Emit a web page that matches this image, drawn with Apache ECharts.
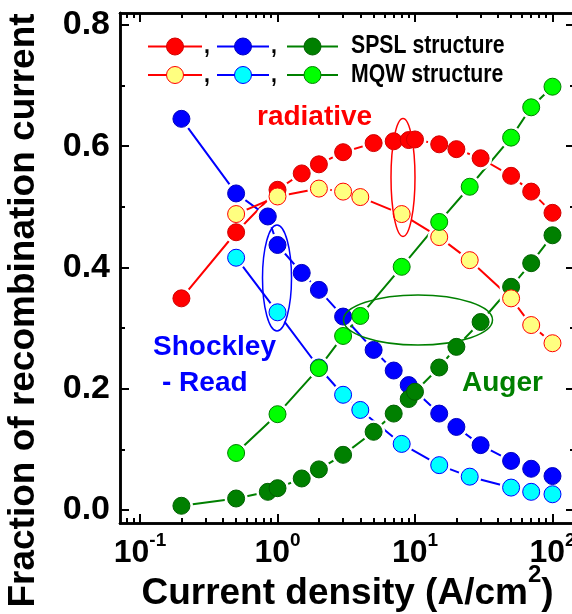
<!DOCTYPE html>
<html><head><meta charset="utf-8">
<script src="https://cdn.jsdelivr.net/npm/echarts@6/dist/echarts.min.js"></script>
<style>html,body{margin:0;padding:0;background:#fff}#c{width:572px;height:614px}</style>
</head><body><div id="c"></div>
<script>
// ---- data ----
const spslRadX = [0.2, 0.5, 1, 1.5, 2, 3, 5, 7, 9, 10, 15, 20, 30, 50, 70, 100];
const spslRad  = [0.349, 0.458, 0.528, 0.555, 0.570, 0.590, 0.605, 0.608, 0.610, 0.611, 0.603, 0.595, 0.580, 0.551, 0.525, 0.490];
const spslSrhX = [0.2, 0.5, 0.85, 1, 1.5, 2, 3, 5, 7, 9, 15, 20, 30, 50, 70, 100];
const spslSrh  = [0.645, 0.522, 0.484, 0.437, 0.391, 0.363, 0.319, 0.264, 0.230, 0.206, 0.159, 0.137, 0.107, 0.081, 0.068, 0.056];
const spslAugX = [0.2, 0.5, 0.85, 1, 1.5, 2, 3, 5, 7, 9, 10, 15, 20, 30, 50, 70, 100];
const spslAug  = [0.007, 0.019, 0.030, 0.036, 0.052, 0.067, 0.091, 0.129, 0.159, 0.183, 0.195, 0.235, 0.269, 0.310, 0.368, 0.407, 0.453];
const mqwX     = [0.5, 1, 2, 3, 4, 8, 15, 25, 50, 70, 100];
const mqwRad   = [0.488, 0.517, 0.530, 0.525, 0.516, 0.488, 0.450, 0.412, 0.349, 0.305, 0.275];
const mqwSrh   = [0.416, 0.326, 0.235, 0.190, 0.165, 0.109, 0.074, 0.055, 0.037, 0.030, 0.026];
const mqwAug   = [0.094, 0.158, 0.234, 0.287, 0.320, 0.401, 0.475, 0.533, 0.614, 0.664, 0.698];

const xMajorTicks = [0.1, 1, 10, 100];
const xMinorTicks = [0.08, 0.09, 0.2, 0.3, 0.4, 0.5, 0.6, 0.7, 0.8, 0.9, 2, 3, 4, 5, 6, 7, 8, 9, 20, 30, 40, 50, 60, 70, 80, 90];
const yMajorTicks = [0, 0.2, 0.4, 0.6, 0.8];
const yMinorTicks = [0.1, 0.3, 0.5, 0.7];

const legendRows = ['SPSL structure', 'MQW structure'];
const notes = ['radiative', 'Shockley', '- Read', 'Auger'];

// ---- styling ----
const SANS = '"Liberation Sans",Arial,sans-serif';
const X_MIN = 0.07151, X_MAX = 145.8, Y_MIN = -0.0214, Y_MAX = 0.8195;

const curves = [
  {x: spslRadX, y: spslRad, line: '#ff0000', fill: '#ff0000', border: '#d00000'},
  {x: spslSrhX, y: spslSrh, line: '#0000ff', fill: '#0000ff', border: '#0000c0'},
  {x: spslAugX, y: spslAug, line: '#008000', fill: '#008000', border: '#006000'},
  {x: mqwX, y: mqwRad, line: '#ff0000', fill: '#ffff80', border: '#ff0000'},
  {x: mqwX, y: mqwSrh, line: '#0000ff', fill: '#00ffff', border: '#0000ff'},
  {x: mqwX, y: mqwAug, line: '#008000', fill: '#00ff00', border: '#008000'}
];
const pairs = c => c.x.map((v, i) => [v, c.y[i]]);

const series = [];
curves.forEach(c => series.push({type: 'line', data: pairs(c), symbol: 'none', z: 2,
  lineStyle: {color: c.line, width: 2}, silent: true, animation: false}));
curves.forEach(c => series.push({type: 'scatter', data: pairs(c), symbolSize: 23, z: 3,
  itemStyle: {color: '#ffffff', opacity: 1}, silent: true, animation: false}));
curves.forEach(c => series.push({type: 'scatter', data: pairs(c), symbolSize: 17, z: 4,
  itemStyle: {color: c.fill, borderColor: c.border, borderWidth: 1, opacity: 1}, silent: true, animation: false}));

const lineCol = '#000';
function xAxisDef(pos, ticks, len, labels) {
  return {
    type: 'log', logBase: 10, min: X_MIN, max: X_MAX, position: pos,
    axisLine: {show: true, onZero: false, lineStyle: {color: lineCol, width: 2.5}},
    axisTick: {show: true, inside: true, length: len, customValues: ticks, lineStyle: {color: lineCol, width: 2}},
    axisLabel: labels ? {show: true, customValues: xMajorTicks, margin: 8,
      formatter: v => '{b|10}{s|' + Math.round(Math.log10(v)) + '}',
      rich: {b: {fontFamily: SANS, fontWeight: 'bold', fontSize: 32, lineHeight: 44, color: '#000'},
             s: {fontFamily: SANS, fontWeight: 'bold', fontSize: 19, lineHeight: 19, verticalAlign: 'top', color: '#000'}}}
      : {show: false},
    splitLine: {show: false}, minorTick: {show: false}
  };
}
function yAxisDef(pos, ticks, len, labels) {
  return {
    type: 'value', min: Y_MIN, max: Y_MAX, position: pos,
    axisLine: {show: true, onZero: false, lineStyle: {color: lineCol, width: 2.5}},
    axisTick: {show: true, inside: true, length: len, customValues: ticks, lineStyle: {color: lineCol, width: 2}},
    axisLabel: labels ? {show: true, customValues: yMajorTicks, margin: 10,
      formatter: v => v.toFixed(1), fontFamily: SANS, fontWeight: 'bold', fontSize: 34, color: '#000'}
      : {show: false},
    splitLine: {show: false}
  };
}

const xs = [xAxisDef('bottom', xMajorTicks, 9, true), xAxisDef('bottom', xMinorTicks, 5, false),
            xAxisDef('top', xMajorTicks, 9, false), xAxisDef('top', xMinorTicks, 5, false)];
xs[0].name = '{a|Current density (A/cm}{s|2}{a|)}';
xs[0].nameLocation = 'middle';
xs[0].nameGap = 40;
xs[0].nameMoveOverlap = false;
xs[0].nameTextStyle = {rich: {
  a: {fontFamily: SANS, fontWeight: 'bold', fontSize: 37, lineHeight: 62, color: '#000'},
  s: {fontFamily: SANS, fontWeight: 'bold', fontSize: 24, lineHeight: 24, verticalAlign: 'top', color: '#000'}}};

const ys = [yAxisDef('left', yMajorTicks, 9, true), yAxisDef('left', yMinorTicks, 5, false),
            yAxisDef('right', yMajorTicks, 9, false), yAxisDef('right', yMinorTicks, 5, false)];
ys[0].name = 'Fraction of recombination current';
ys[0].nameLocation = 'middle';
ys[0].nameGap = 78;
ys[0].nameMoveOverlap = false;
ys[0].nameTextStyle = {fontFamily: SANS, fontWeight: 'bold', fontSize: 37, color: '#000', padding: [0, 85, 0, 0]};

// legend drawn as graphic (icon, icon, icon + label per row)
const graphics = [];
const iconX = [[148, 202], [217, 269], [287, 338]];
const rowY = [46.5, 75];
const rowStyles = [[0, 1, 2], [3, 4, 5]];
rowY.forEach((yy, r) => {
  rowStyles[r].forEach((ci, k) => {
    const c = curves[ci];
    const [a, b] = iconX[k];
    graphics.push({type: 'line', shape: {x1: a, y1: yy, x2: b, y2: yy}, style: {stroke: c.line, lineWidth: 2}, z: 10});
    graphics.push({type: 'circle', shape: {cx: (a + b) / 2, cy: yy, r: 8.5}, style: {fill: c.fill, stroke: c.border, lineWidth: 1}, z: 11});
    if (k < 2) graphics.push({type: 'text', x: b + 2, y: yy, scaleX: 0.85, style: {text: ',', font: 'bold 25px ' + SANS, fill: '#000', verticalAlign: 'middle'}, z: 11});
  });
  graphics.push({type: 'text', x: 351, y: yy, scaleX: 0.85, style: {text: legendRows[r], font: 'bold 25px ' + SANS, fill: '#000', verticalAlign: 'middle'}, z: 11});
});
// annotations
graphics.push({type: 'text', x: 257, y: 117.5, style: {text: notes[0], font: 'bold 28px ' + SANS, fill: '#ff0000', verticalAlign: 'middle'}, z: 11});
graphics.push({type: 'text', x: 153, y: 347, style: {text: notes[1], font: 'bold 28px ' + SANS, fill: '#0000ff', verticalAlign: 'middle'}, z: 11});
graphics.push({type: 'text', x: 162, y: 383, style: {text: notes[2], font: 'bold 28px ' + SANS, fill: '#0000ff', verticalAlign: 'middle'}, z: 11});
graphics.push({type: 'text', x: 462, y: 383, style: {text: notes[3], font: 'bold 28px ' + SANS, fill: '#008000', verticalAlign: 'middle'}, z: 11});
graphics.push({type: 'ellipse', shape: {cx: 403, cy: 177.5, rx: 12, ry: 59}, style: {fill: null, stroke: '#ff0000', lineWidth: 1.5}, z: 9});
graphics.push({type: 'ellipse', shape: {cx: 277, cy: 278, rx: 14.5, ry: 53}, style: {fill: null, stroke: '#0000ff', lineWidth: 1.5}, z: 9});
graphics.push({type: 'ellipse', shape: {cx: 418, cy: 320, rx: 74.5, ry: 25}, style: {fill: null, stroke: '#008000', lineWidth: 1.5}, z: 9});

const chart = echarts.init(document.getElementById('c'), null, {renderer: 'canvas'});
chart.setOption({
  animation: false,
  backgroundColor: '#fff',
  grid: {left: 120, right: -3, top: 13, bottom: 91, containLabel: false, outerBoundsMode: 'none'},
  xAxis: xs,
  yAxis: ys,
  series: series,
  graphic: graphics
});
</script></body></html>
